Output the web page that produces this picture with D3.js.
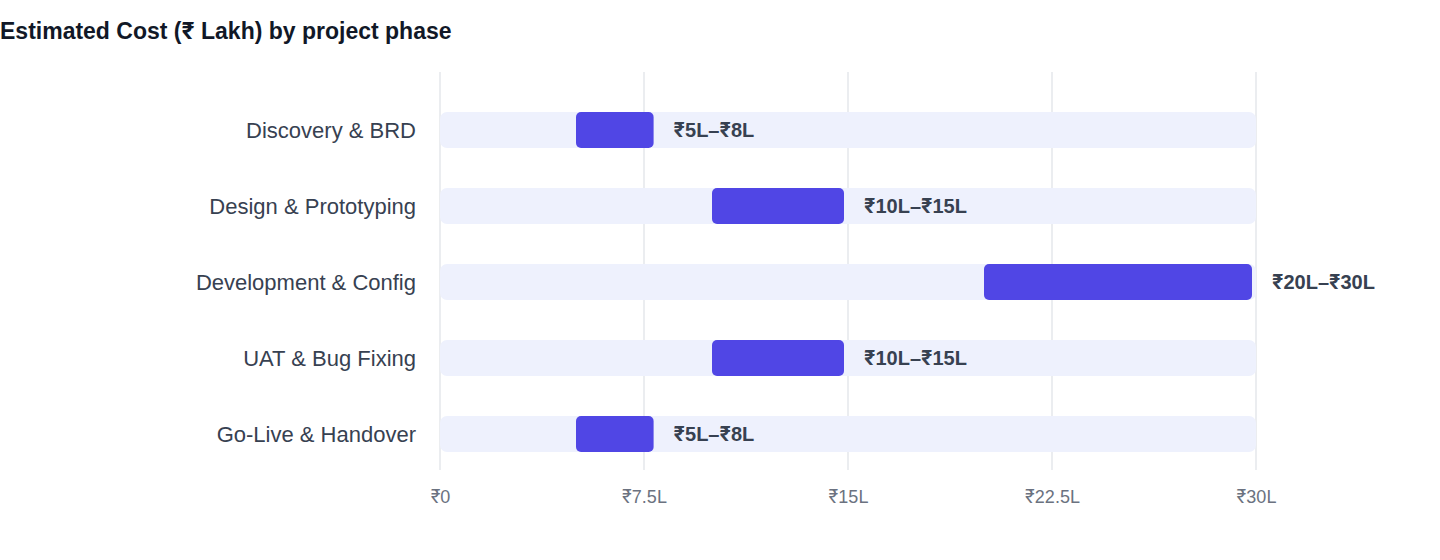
<!DOCTYPE html>
<html><head><meta charset="utf-8">
<script src="https://cdn.jsdelivr.net/npm/d3@7"></script>
<style>body{margin:0;background:#fff;font-family:"Liberation Sans","Inter",sans-serif}</style>
</head><body><svg id="c" width="1440" height="560"></svg>
<script>
const phases=["Discovery & BRD","Design & Prototyping","Development & Config","UAT & Bug Fixing","Go-Live & Handover"];
const lows=[5,10,20,10,5];
const highs=[8,15,30,15,8];
const rangeLabels=["₹5L–₹8L","₹10L–₹15L","₹20L–₹30L","₹10L–₹15L","₹5L–₹8L"];
const ticks=[0,7.5,15,22.5,30];
const tickLabels=["₹0","₹7.5L","₹15L","₹22.5L","₹30L"];

const svg=d3.select("#c");
const x=d3.scaleLinear().domain([0,30]).range([440,1256]);
const y=d3.scaleBand().domain(phases).range([92,472]).paddingInner(0.526).paddingOuter(0.263);
svg.append("text").attr("x",0).attr("y",39).attr("font-size",23).attr("font-weight",700).attr("fill","#111827").text("Estimated Cost (₹ Lakh) by project phase");
const g=svg.append("g");
g.selectAll(".grid").data(ticks).join("line").attr("x1",d=>x(d)).attr("x2",d=>x(d)).attr("y1",72).attr("y2",470).attr("stroke","#e5e7eb").attr("stroke-width",1.5);
const ax=svg.append("g").attr("transform","translate(0,470)").call(d3.axisBottom(x).tickValues(ticks).tickFormat((d,i)=>tickLabels[i]).tickSize(0).tickPadding(20));
ax.select(".domain").remove();
ax.selectAll("text").attr("font-size",18).attr("fill","#6b7280").attr("font-family","Liberation Sans, Inter, sans-serif");
g.selectAll(".track").data(phases).join("rect").attr("x",x(0)).attr("width",x(30)-x(0)).attr("y",d=>y(d)).attr("height",y.bandwidth()).attr("rx",7).attr("fill","#eef1fd");
g.selectAll(".bar").data(phases).join("rect").attr("x",(d,i)=>x(lows[i])).attr("width",(d,i)=>x(highs[i])-x(lows[i])-4).attr("y",d=>y(d)).attr("height",y.bandwidth()).attr("rx",5).attr("fill","#5046e5");
g.selectAll(".lab").data(phases).join("text").attr("x",416).attr("y",d=>y(d)+y.bandwidth()/2).attr("dy","0.35em").attr("text-anchor","end").attr("font-size",22).attr("fill","#374151").text(d=>d);
g.selectAll(".val").data(phases).join("text").attr("x",(d,i)=>x(highs[i])+16).attr("y",d=>y(d)+y.bandwidth()/2).attr("dy","0.35em").attr("font-size",20).attr("font-weight",700).attr("fill","#374151").text((d,i)=>rangeLabels[i]);
</script></body></html>
